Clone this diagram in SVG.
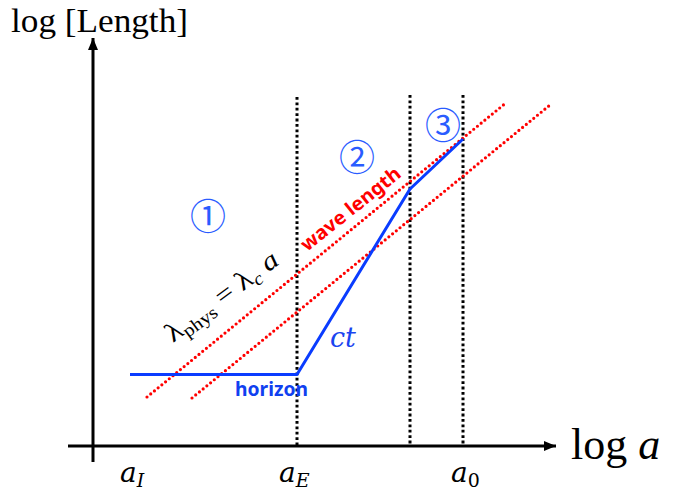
<svg xmlns="http://www.w3.org/2000/svg" width="674" height="497" viewBox="0 0 674 497">
<defs>
<style>
.axis{stroke:#000;stroke-width:3;fill:none}
.vdot{stroke:#000;stroke-width:3;stroke-dasharray:2.8 2.6;fill:none}
.rdot{stroke:#ff0000;stroke-width:3.2;stroke-dasharray:0 4.8;stroke-linecap:round;fill:none}
.blue{stroke:#0a3cff;stroke-width:3;fill:none;stroke-linejoin:round}
.serif{font-family:"Liberation Serif","DejaVu Serif",serif;fill:#000}
.math{font-family:"DejaVu Serif","Liberation Serif",serif;font-style:italic;fill:#000}
.circ{font-family:"Noto Sans CJK JP","Noto Sans",sans-serif;fill:#2a5cff;font-size:36px}
.blab{font-family:"Noto Sans","Liberation Sans",sans-serif;font-weight:bold}
</style>
<marker id="arr" viewBox="0 0 12 10" refX="12" refY="5" markerWidth="12" markerHeight="10" markerUnits="userSpaceOnUse" orient="auto">
<path d="M0,0 L12,5 L0,10 Z" fill="#000"/>
</marker>
</defs>
<g id="connectors">
<line class="axis" x1="93" y1="462" x2="93" y2="38" marker-end="url(#arr)"/>
<line class="axis" x1="68" y1="446" x2="556" y2="446" marker-end="url(#arr)"/>
<line class="vdot" x1="297" y1="97" x2="297" y2="445"/>
<line class="vdot" x1="410" y1="95" x2="410" y2="445"/>
<line class="vdot" x1="463" y1="95" x2="463" y2="445"/>
<line class="rdot" x1="147" y1="397" x2="507" y2="102"/>
<line class="rdot" x1="192" y1="398" x2="550" y2="105"/>
<polyline class="blue" points="130,374.5 297,374.5 410,189 463,139"/>
</g>
<g id="labels">
<text class="serif" x="11" y="32" font-size="34" textLength="177" lengthAdjust="spacingAndGlyphs">log [Length]</text>
<text class="serif" x="571" y="459" font-size="44">log <tspan font-style="italic">a</tspan></text>
<text class="math" x="120" y="482" font-size="28">a<tspan font-size="19" dy="5">I</tspan></text>
<text class="math" x="279" y="482" font-size="28">a<tspan font-size="19" dy="5">E</tspan></text>
<text class="math" x="451" y="482" font-size="28">a<tspan font-size="19" dy="5" font-style="normal">0</tspan></text>
<text class="math" x="330" y="347" font-size="27" style="fill:#1a44f0">ct</text>
<text class="blab" x="235" y="396" font-size="19" fill="#1040f0" textLength="73" lengthAdjust="spacingAndGlyphs">horizon</text>
<text class="blab" x="0" y="0" font-size="19" fill="#ff0000" textLength="122" lengthAdjust="spacingAndGlyphs" transform="translate(307,252) rotate(-38.5)">wave length</text>
<text class="serif" x="0" y="0" font-size="27" textLength="134" lengthAdjust="spacingAndGlyphs" transform="translate(173,343) rotate(-36.5)">λ<tspan font-size="18" dy="5">phys</tspan><tspan dy="-5"> = λ</tspan><tspan font-size="18" dy="5" font-style="italic">c</tspan><tspan dy="-5" font-style="italic"> a</tspan></text>
</g>
<g id="region1"><text class="circ" x="208" y="214" text-anchor="middle" dominant-baseline="central">①</text></g>
<g id="region2"><text class="circ" x="357" y="155" text-anchor="middle" dominant-baseline="central">②</text></g>
<g id="region3"><text class="circ" x="443" y="123" text-anchor="middle" dominant-baseline="central">③</text></g>
</svg>
